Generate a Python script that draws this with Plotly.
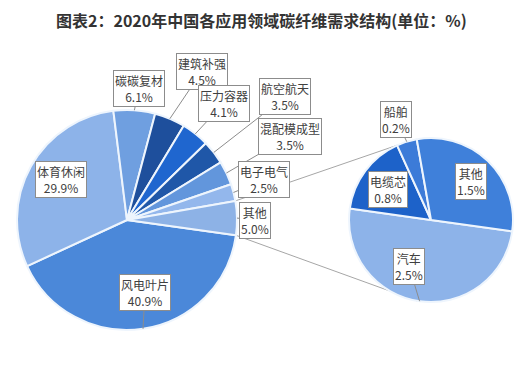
import math
import plotly.graph_objects as go

# ---------------- data ----------------
main_labels = ["风电叶片", "体育休闲", "碳碳复材", "建筑补强", "压力容器",
               "航空航天", "混配模成型", "电子电气", "其他"]
main_values = [40.9, 29.9, 6.1, 4.5, 4.1, 3.5, 3.5, 2.5, 5.0]
main_colors = ["#4b88d9", "#8db3e9", "#6f9fe0", "#1e4f9c", "#1f66cf",
               "#1f57a8", "#6296dc", "#93b7ec", "#8db2e6"]

sub_labels = ["汽车", "电缆芯", "船舶", "其他"]
sub_values = [2.5, 0.8, 0.2, 1.5]
sub_colors = ["#8db3e9", "#1d62c9", "#3c7bd8", "#3f80da"]

title_text = "图表2：2020年中国各应用领域碳纤维需求结构(单位：%)"

# ---------------- layout geometry (pixels) ----------------
W, H = 522, 392
MAIN_C, MAIN_R = (127, 220), 110
SUB_C, SUB_R = (431, 220), 82
ROTATION = 98  # degrees clockwise from 12 o'clock

# label box centres (pixels) and whether a pointer is drawn
main_label_pos = [(145, 292, True), (61, 180, False), (139, 88, True), (202, 71, True),
                  (224, 103, True), (285, 97, True), (290, 136, True), (264, 180, True),
                  (255, 220, True)]
sub_label_pos = [(409, 266, True), (388, 190, False), (396, 119, True), (471, 181, False)]

# connector end angles on secondary pie
SUB_TOP_ANGLE, SUB_BOT_ANGLE = 336, 190


def domain(c, r):
    return dict(x=[(c[0] - r) / W, (c[0] + r) / W],
                y=[(H - c[1] - r) / H, (H - c[1] + r) / H])


def point(c, r, ang):
    a = math.radians(ang)
    return c[0] + r * math.sin(a), c[1] - r * math.cos(a)


def mid_angles(values):
    tot = sum(values)
    out, cur = [], ROTATION
    bounds = []
    for v in values:
        span = v / tot * 360
        out.append(cur + span / 2)
        bounds.append((cur, cur + span))
        cur += span
    return out, bounds


fig = go.Figure()
fig.add_trace(go.Pie(labels=main_labels, values=main_values, sort=False,
                     direction="clockwise", rotation=ROTATION,
                     marker=dict(colors=main_colors, line=dict(color="#eef5fd", width=2)),
                     textinfo="none", hoverinfo="skip", domain=domain(MAIN_C, MAIN_R)))
fig.add_trace(go.Pie(labels=sub_labels, values=sub_values, sort=False,
                     direction="clockwise", rotation=ROTATION,
                     marker=dict(colors=sub_colors, line=dict(color="#eef5fd", width=2)),
                     textinfo="none", hoverinfo="skip", domain=domain(SUB_C, SUB_R)))

annotations = []
font = dict(family="Noto Sans CJK SC, Microsoft YaHei, sans-serif", size=12, color="#404040")


def add_labels(labels, values, c, r, positions):
    mids, _ = mid_angles(values)
    for lab, v, m, (bx, by, arrow) in zip(labels, values, mids, positions):
        txt = f"{lab}<br>{v:.1f}%"
        if arrow:
            tx, ty = point(c, r, m)
            annotations.append(dict(
                x=tx / W, y=1 - ty / H, xref="paper", yref="paper",
                ax=bx - tx, ay=by - ty, axref="pixel", ayref="pixel",
                text=txt, showarrow=True, arrowhead=0, arrowwidth=1,
                arrowcolor="#8c8c8c", standoff=0, bgcolor="white",
                bordercolor="#8c8c8c", borderwidth=1, borderpad=1, font=font))
        else:
            annotations.append(dict(
                x=bx / W, y=1 - by / H, xref="paper", yref="paper",
                xanchor="center", yanchor="middle",
                text=txt, showarrow=False, bgcolor="white",
                bordercolor="#8c8c8c", borderwidth=1, borderpad=1, font=font))


add_labels(main_labels, main_values, MAIN_C, MAIN_R, main_label_pos)
add_labels(sub_labels, sub_values, SUB_C, SUB_R, sub_label_pos)

# connector lines from the main pie's "其他" slice to the secondary pie
_, main_bounds = mid_angles(main_values)
a0, a1 = main_bounds[-1]
p_top = point(MAIN_C, MAIN_R, a0)
p_bot = point(MAIN_C, MAIN_R, a1)
q_top = point(SUB_C, SUB_R, SUB_TOP_ANGLE)
q_bot = point(SUB_C, SUB_R, SUB_BOT_ANGLE)
shapes = []
for p, q in [(p_top, q_top), (p_bot, q_bot)]:
    shapes.append(dict(type="line", xref="paper", yref="paper",
                       x0=p[0] / W, y0=1 - p[1] / H, x1=q[0] / W, y1=1 - q[1] / H,
                       line=dict(color="#a6a6a6", width=1), layer="below"))

annotations.append(dict(x=0.5, y=1 - 20 / H, xref="paper", yref="paper",
                        xanchor="center", yanchor="middle",
                        text=f"<b>{title_text}</b>", showarrow=False,
                        font=dict(family="Noto Sans CJK SC, sans-serif", size=16, color="#333333")))

fig.update_layout(width=W, height=H, margin=dict(l=0, r=0, t=0, b=0),
                  paper_bgcolor="white", plot_bgcolor="white", showlegend=False,
                  annotations=annotations, shapes=shapes)

fig.write_html("out.html", config={"displayModeBar": False},
               post_script="document.body.style.margin='0';document.body.style.overflow='hidden';")
